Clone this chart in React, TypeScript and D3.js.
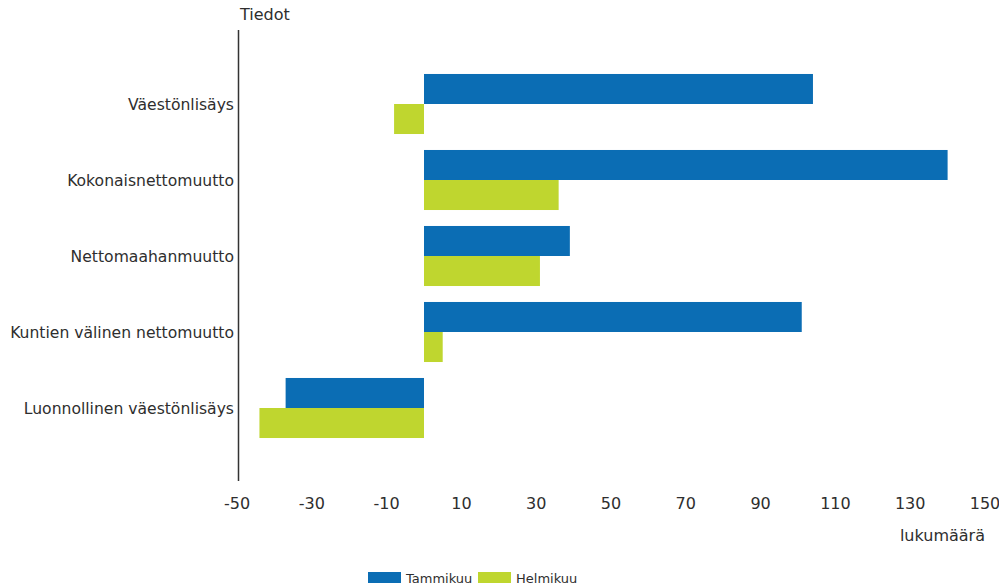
import { useEffect, useRef } from 'react'
import * as d3 from 'd3'

const categories = [
  'Väestönlisäys',
  'Kokonaisnettomuutto',
  'Nettomaahanmuutto',
  'Kuntien välinen nettomuutto',
  'Luonnollinen väestönlisäys',
]
const seriesNames = ['Tammikuu', 'Helmikuu']
const tammikuu = [104, 140, 39, 101, -37]
const helmikuu = [-8, 36, 31, 5, -44]
const xTicks = [-50, -30, -10, 10, 30, 50, 70, 90, 110, 130, 150]
const colors = ['#0b6db4', '#bfd62f']

const width = 999
const height = 588

export default function App() {
  const svgRef = useRef<SVGSVGElement>(null)

  useEffect(() => {
    if (!svgRef.current) return
    const svg = d3.select(svgRef.current)
    svg.selectAll('*').remove()

    const font = '"DejaVu Sans", Verdana, sans-serif'
    const textColor = '#2e2e2e'

    const x = d3.scaleLinear().domain([-50, 150]).range([237, 985])

    const y0 = d3.scaleBand()
      .domain(categories)
      .range([66, 446])
      .paddingInner(0.21)
      .paddingOuter(0.105)

    const y1 = d3.scaleBand()
      .domain(seriesNames)
      .range([0, y0.bandwidth()])

    const rows = categories.map((c, i) => ({
      category: c,
      values: [tammikuu[i], helmikuu[i]],
    }))

    const groups = svg.selectAll('.row')
      .data(rows)
      .enter().append('g')
      .attr('class', 'row')
      .attr('transform', d => `translate(0,${y0(d.category)})`)

    groups.selectAll('rect')
      .data(d => d.values.map((v, i) => ({ v, s: seriesNames[i], i })))
      .enter().append('rect')
      .attr('x', d => x(Math.min(0, d.v)))
      .attr('y', d => y1(d.s)!)
      .attr('width', d => Math.abs(x(d.v) - x(0)))
      .attr('height', y1.bandwidth())
      .attr('fill', d => colors[d.i])

    // vertical axis line
    svg.append('line')
      .attr('x1', 238.5).attr('x2', 238.5)
      .attr('y1', 30).attr('y2', 481)
      .attr('stroke', '#333')
      .attr('stroke-width', 1.5)

    svg.selectAll('.cat-label')
      .data(categories)
      .enter().append('text')
      .attr('class', 'cat-label')
      .attr('x', 234)
      .attr('y', d => y0(d)! + y0.bandwidth() / 2 + 6)
      .attr('text-anchor', 'end')
      .style('font-family', font)
      .style('font-size', '15.6px')
      .style('fill', textColor)
      .text(d => d)

    svg.selectAll('.x-tick')
      .data(xTicks)
      .enter().append('text')
      .attr('class', 'x-tick')
      .attr('x', d => x(d))
      .attr('y', 509)
      .attr('text-anchor', 'middle')
      .style('font-family', font)
      .style('font-size', '16px')
      .style('fill', textColor)
      .text(d => d)

    svg.append('text')
      .attr('x', 240)
      .attr('y', 20)
      .style('font-family', font)
      .style('font-size', '16px')
      .style('fill', textColor)
      .text('Tiedot')

    svg.append('text')
      .attr('x', 985)
      .attr('y', 541)
      .attr('text-anchor', 'end')
      .style('font-family', font)
      .style('font-size', '16px')
      .style('fill', textColor)
      .text('lukumäärä')

    const legend = svg.append('g')
    const legendX = [368, 478]
    seriesNames.forEach((s, i) => {
      legend.append('rect')
        .attr('x', legendX[i])
        .attr('y', 572)
        .attr('width', 33)
        .attr('height', 11)
        .attr('fill', colors[i])
      legend.append('text')
        .attr('x', legendX[i] + 38)
        .attr('y', 583)
        .style('font-family', font)
        .style('font-size', '13px')
        .style('fill', textColor)
        .text(s)
    })
  }, [])

  return (
    <svg
      ref={svgRef}
      width={width}
      height={height}
      style={{ position: 'absolute', left: 0, top: 0, background: '#fff' }}
    />
  )
}
